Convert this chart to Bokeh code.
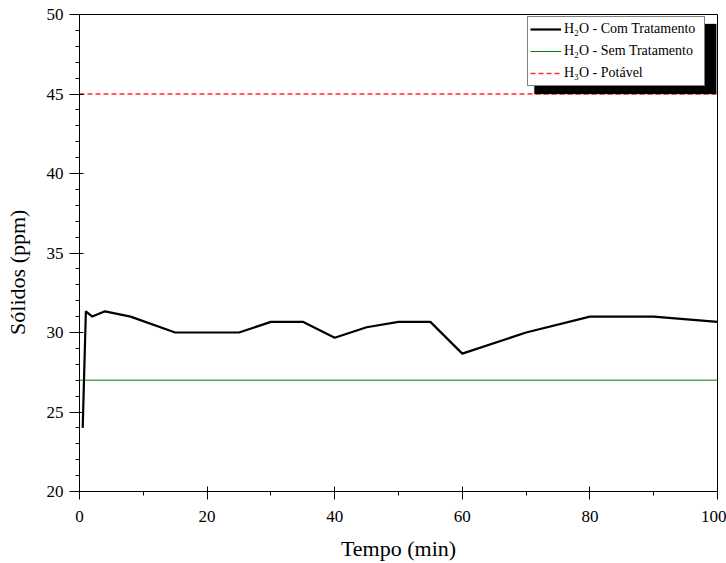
from bokeh.plotting import figure
from bokeh.models import (Legend, LegendItem, SingleIntervalTicker, Range1d, BoxAnnotation)
from bokeh.embed import file_html
from bokeh.resources import INLINE

# Data
tempo = [0.5, 1, 2, 4, 8, 15, 20, 25, 30, 35, 40, 45, 50, 55, 60, 70, 80, 90, 100]
solidos_com = [24.0, 31.33, 31.0, 31.33, 31.0, 30.0, 30.0, 30.0, 30.67, 30.67,
               29.67, 30.33, 30.67, 30.67, 28.67, 30.0, 31.0, 31.0, 30.67]
tempo_ref = [0, 100]
solidos_sem = [27.0, 27.0]
solidos_potavel = [45.0, 45.0]

labels = ["H\u2082O - Com Tratamento", "H\u2082O - Sem Tratamento", "H\u2083O - Potável"]
x_title = "Tempo (min)"
y_title = "Sólidos (ppm)"

FONT = "'Liberation Serif', 'Times New Roman', serif"

p = figure(width=726, height=563, output_backend="svg", toolbar_location=None,
           x_range=Range1d(0, 100), y_range=Range1d(20, 50),
           min_border_left=79, min_border_right=9, min_border_top=14, min_border_bottom=72)
p.xgrid.visible = False
p.ygrid.visible = False
p.outline_line_color = "black"
p.outline_line_width = 1
p.background_fill_color = "white"
p.border_fill_color = "white"

# drop shadow of the legend box (data coordinates of the upper-right corner)
p.add_layout(BoxAnnotation(left=71.3, right=99.8, bottom=45.0, top=49.4,
                           fill_color="black", fill_alpha=1.0, line_color="black",
                           level="overlay"))

r_pot = p.line(tempo_ref, solidos_potavel, line_color="#ff2a2a", line_width=1.5, line_dash="5 3")
r_sem = p.line(tempo_ref, solidos_sem, line_color="#008000", line_width=1)
r_com = p.line(tempo, solidos_com, line_color="black", line_width=2.2)

# axes
p.xaxis.ticker = SingleIntervalTicker(interval=20, num_minor_ticks=2)
p.yaxis.ticker = SingleIntervalTicker(interval=5, num_minor_ticks=5)
for ax in (p.xaxis[0], p.yaxis[0]):
    ax.axis_line_color = "black"
    ax.major_tick_line_color = "black"
    ax.minor_tick_line_color = "black"
    ax.major_label_text_font = FONT
    ax.major_label_text_font_size = "17px"
    ax.major_label_text_color = "black"
    ax.axis_label_text_font = FONT
    ax.axis_label_text_font_size = "22px"
    ax.axis_label_text_font_style = "normal"
    ax.axis_label_text_color = "black"

p.xaxis.axis_label = x_title
p.xaxis.major_tick_in = 5
p.xaxis.major_tick_out = 8
p.xaxis.minor_tick_in = 0
p.xaxis.minor_tick_out = 4
p.xaxis.major_label_standoff = 11
p.xaxis.axis_label_standoff = 11

# trailing no-break spaces shift the visible title a little below the frame centre,
# as in the reference
p.yaxis.axis_label = y_title + "\u00a0" * 7
p.yaxis.major_tick_in = 4
p.yaxis.major_tick_out = 10
p.yaxis.minor_tick_in = 0
p.yaxis.minor_tick_out = 4
p.yaxis.major_label_standoff = 6
p.yaxis.axis_label_standoff = 14

items = [LegendItem(label=labels[0], renderers=[r_com]),
         LegendItem(label=labels[1], renderers=[r_sem]),
         LegendItem(label=labels[2], renderers=[r_pot])]
lg = Legend(items=items, location=(448, 405))
lg.label_text_font = FONT
lg.label_text_font_size = "14px"
lg.label_text_color = "black"
lg.glyph_width = 31
lg.glyph_height = 20
lg.label_height = 20
lg.label_width = 138
lg.label_standoff = 3
lg.spacing = 2
lg.padding = 2
lg.margin = 0
lg.border_line_color = "black"
lg.border_line_width = 1
lg.background_fill_color = "white"
lg.background_fill_alpha = 1.0
p.add_layout(lg, "center")

open("out.html", "w").write(file_html(p, INLINE))
